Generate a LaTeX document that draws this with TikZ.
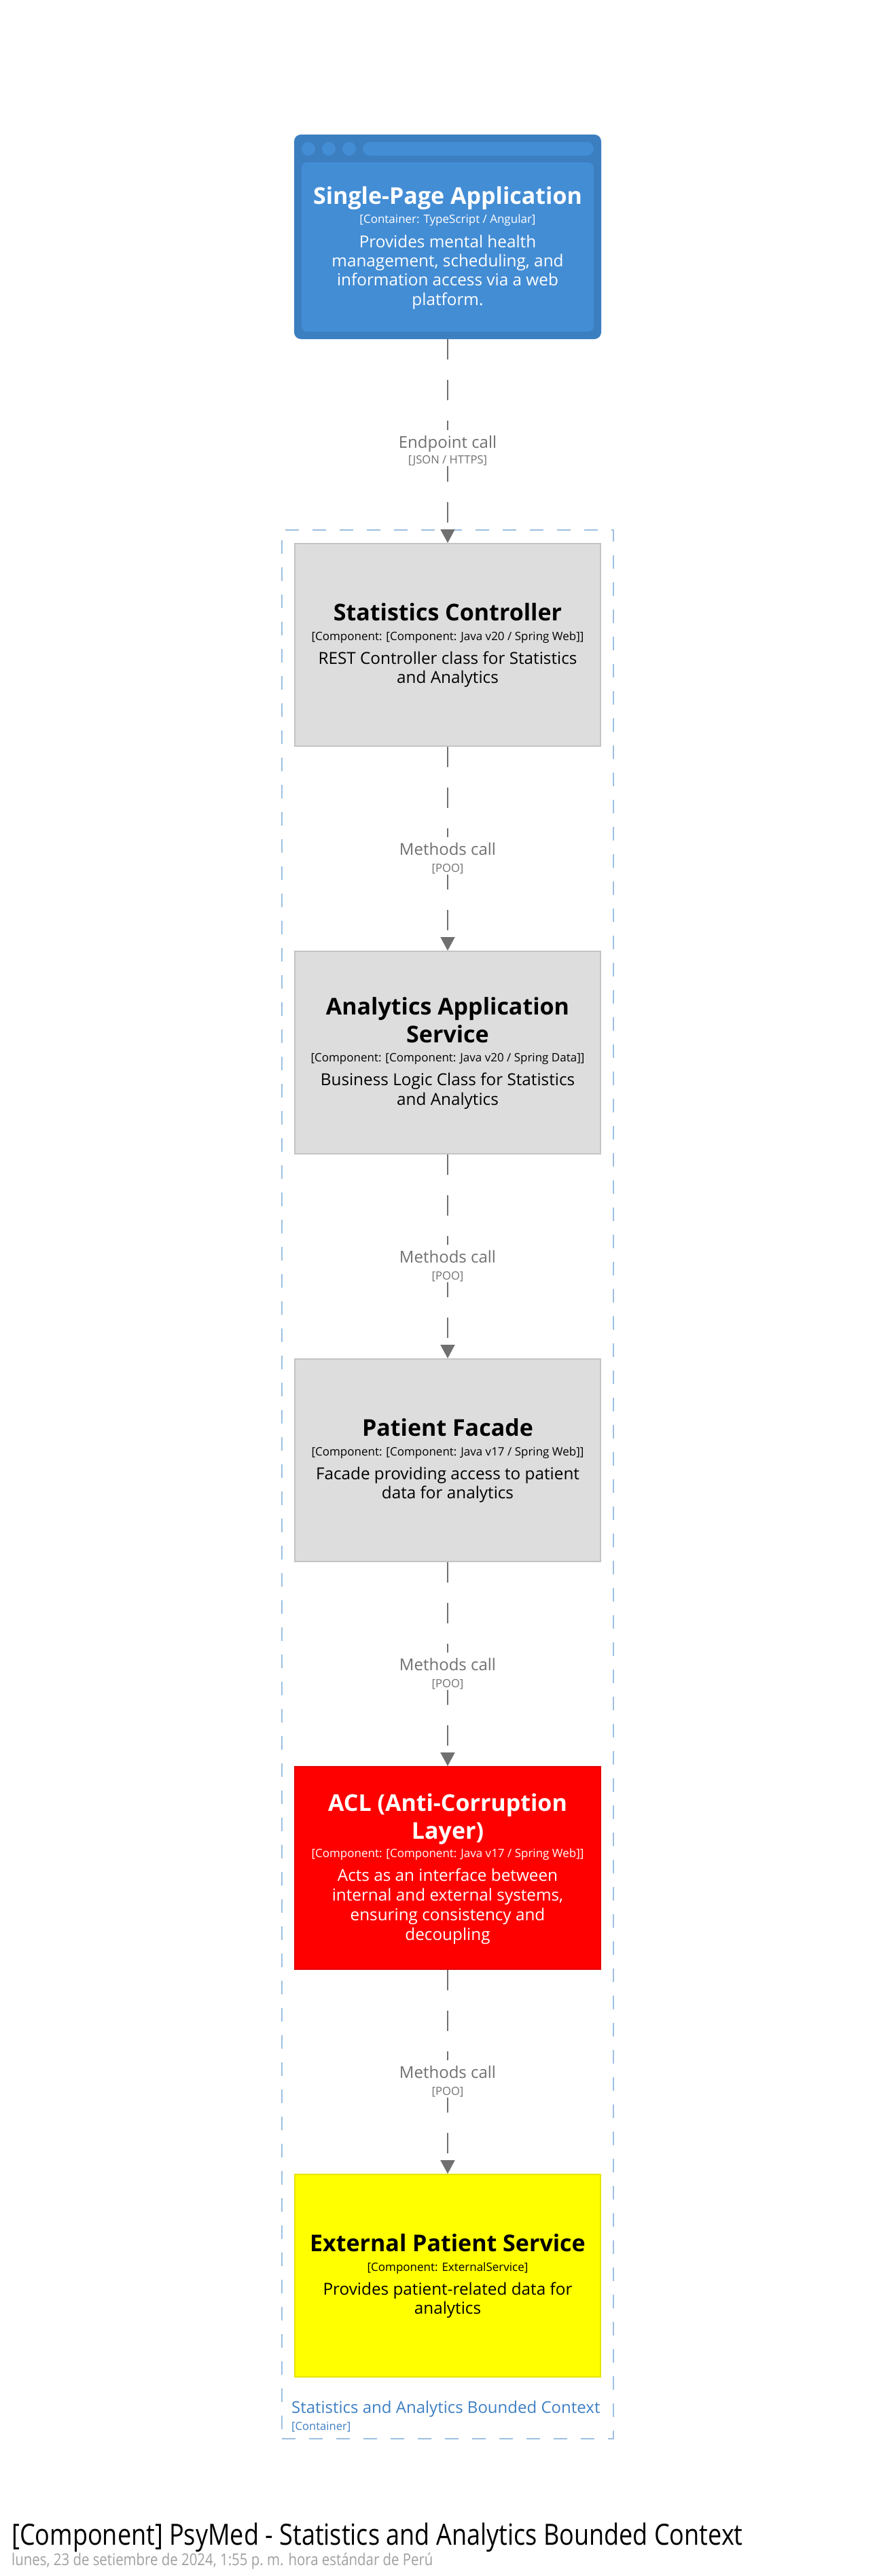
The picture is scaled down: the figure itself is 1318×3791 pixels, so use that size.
\documentclass[tikz,border=0pt]{standalone}
\usepackage{fontspec}
\setmainfont{Open Sans}
\newfontfamily\titlefont[FakeStretch=0.838]{Open Sans}
\newfontfamily\datefont[FakeStretch=0.85]{Open Sans}
\usetikzlibrary{arrows.meta}
\definecolor{spaouter}{HTML}{3C7FC0}
\definecolor{spainner}{HTML}{438DD5}
\definecolor{compfill}{HTML}{DDDDDD}
\definecolor{compline}{HTML}{C4C4C4}
\definecolor{aclfill}{HTML}{FF0000}
\definecolor{aclline}{HTML}{E50000}
\definecolor{extfill}{HTML}{FFFF00}
\definecolor{extline}{HTML}{E5E500}
\definecolor{relgray}{HTML}{707070}
\definecolor{bndline}{HTML}{9CC0E2}
\definecolor{bndtext}{HTML}{3F80C3}
\definecolor{dategray}{HTML}{A0A0A0}
\tikzset{
  compbox/.style={draw=compline, fill=compfill, line width=2pt, minimum width=450pt, minimum height=298pt, inner sep=0pt},
  ttl/.style={anchor=base, inner sep=0pt, font=\fontsize{34}{41}\selectfont\bfseries},
  tech/.style={anchor=base, inner sep=0pt, font=\fontsize{17}{19}\selectfont},
  desc/.style={anchor=base, inner sep=0pt, font=\fontsize{24.3}{29}\selectfont},
  rel/.style={draw=relgray, line width=2pt, dash pattern=on 30pt off 30pt, -{Triangle[length=20pt,width=21pt]}},
  rlab/.style={anchor=base, inner sep=0pt, fill=white, text=relgray, font=\fontsize{24}{29}\selectfont, text height=26pt, text depth=12pt},
  rtech/.style={anchor=base, inner sep=0pt, fill=white, text=relgray, font=\fontsize{16.6}{19}\selectfont, text height=13pt, text depth=4pt},
}
\begin{document}
\begin{tikzpicture}[x=1pt, y=-1pt]
\useasboundingbox (0,0) rectangle (1318,3791);
\fill[white] (0,0) rectangle (1318,3791);

% boundary
\node[draw=bndline, line width=2pt, dash pattern=on 20pt off 20pt, minimum width=488pt, minimum height=2809pt, inner sep=0pt] (bnd) at (659,2184.5) {};
\node[anchor=base west, inner sep=0pt, text=bndtext, font=\fontsize{24}{29}\selectfont] (bnd-t) at (429,3551) {Statistics and Analytics Bounded Context};
\node[anchor=base west, inner sep=0pt, text=bndtext, font=\fontsize{16.6}{19}\selectfont] (bnd-k) at (429,3576) {[Container]};

% Single-Page Application
\node[fill=spaouter, draw=none, rounded corners=10pt, minimum width=452pt, minimum height=301pt, inner sep=0pt] (spa) at (659,348.5) {};
\fill[spainner, rounded corners=8pt] (444,239) rectangle (874,488);
\fill[spainner] (454,219) circle (10pt);
\fill[spainner] (484,219) circle (10pt);
\fill[spainner] (514,219) circle (10pt);
\fill[spainner, rounded corners=10pt] (534,209) rectangle (874,229);
\node[ttl, text=white] (spa-t) at (659,300) {Single-Page Application};
\node[tech, text=white] (spa-k) at (659,328) {[Container: TypeScript / Angular]};
\node[desc, text=white] (spa-d1) at (659,364) {Provides mental health};
\node[desc, text=white] (spa-d2) at (659,392.7) {management, scheduling, and};
\node[desc, text=white] (spa-d3) at (659,420.7) {information access via a web};
\node[desc, text=white] (spa-d4) at (659,449.3) {platform.};

% Statistics Controller
\node[compbox] (sc) at (659,949) {};
\node[ttl] (sc-t) at (659,913) {Statistics Controller};
\node[tech] (sc-k) at (659,942) {[Component: [Component: Java v20 / Spring Web]]};
\node[desc] (sc-d1) at (659,977.3) {REST Controller class for Statistics};
\node[desc] (sc-d2) at (659,1005.7) {and Analytics};

% Analytics Application Service
\node[compbox] (aas) at (659,1549) {};
\node[ttl] (aas-t1) at (659,1493.3) {Analytics Application};
\node[ttl] (aas-t2) at (659,1534) {Service};
\node[tech] (aas-k) at (659,1562.7) {[Component: [Component: Java v20 / Spring Data]]};
\node[desc] (aas-d1) at (659,1597.3) {Business Logic Class for Statistics};
\node[desc] (aas-d2) at (659,1626) {and Analytics};

% Patient Facade
\node[compbox] (pf) at (659,2149) {};
\node[ttl] (pf-t) at (659,2113.3) {Patient Facade};
\node[tech] (pf-k) at (659,2142.3) {[Component: [Component: Java v17 / Spring Web]]};
\node[desc] (pf-d1) at (659,2177.3) {Facade providing access to patient};
\node[desc] (pf-d2) at (659,2205.7) {data for analytics};

% ACL
\node[compbox, draw=aclline, fill=aclfill] (acl) at (659,2749) {};
\node[ttl, text=white] (acl-t1) at (659,2665) {ACL (Anti-Corruption};
\node[ttl, text=white] (acl-t2) at (659,2706) {Layer)};
\node[tech, text=white] (acl-k) at (659,2733.3) {[Component: [Component: Java v17 / Spring Web]]};
\node[desc, text=white] (acl-d1) at (659,2768.3) {Acts as an interface between};
\node[desc, text=white] (acl-d2) at (659,2797.3) {internal and external systems,};
\node[desc, text=white] (acl-d3) at (659,2826) {ensuring consistency and};
\node[desc, text=white] (acl-d4) at (659,2855) {decoupling};

% External Patient Service
\node[compbox, draw=extline, fill=extfill] (eps) at (659,3349) {};
\node[ttl] (eps-t) at (659,3313.3) {External Patient Service};
\node[tech] (eps-k) at (659,3342.3) {[Component: ExternalService]};
\node[desc] (eps-d1) at (659,3377.3) {Provides patient-related data for};
\node[desc] (eps-d2) at (659,3405.7) {analytics};

% connectors
\draw[rel] (spa.south) -- (sc.north);
\draw[rel] (sc.south) -- (aas.north);
\draw[rel] (aas.south) -- (pf.north);
\draw[rel] (pf.south) -- (acl.north);
\draw[rel] (acl.south) -- (eps.north);

% connector labels
\node[rlab] (r1-l) at (659,659) {Endpoint call};
\node[rtech] (r1-k) at (659,682) {[JSON / HTTPS]};
\node[rlab] (r2-l) at (659,1258) {Methods call};
\node[rtech] (r2-k) at (659,1283) {[POO]};
\node[rlab] (r3-l) at (659,1858) {Methods call};
\node[rtech] (r3-k) at (659,1883) {[POO]};
\node[rlab] (r4-l) at (659,2458) {Methods call};
\node[rtech] (r4-k) at (659,2483) {[POO]};
\node[rlab] (r5-l) at (659,3058) {Methods call};
\node[rtech] (r5-k) at (659,3083) {[POO]};

% diagram title
\node[anchor=base west, inner sep=0pt, font=\titlefont\fontsize{43}{50}\selectfont] (title) at (17,3745) {[Component] PsyMed - Statistics and Analytics Bounded Context};
\node[anchor=base west, inner sep=0pt, text=dategray, font=\datefont\fontsize{24}{29}\selectfont] (date) at (17,3775) {lunes, 23 de setiembre de 2024, 1:55 p.\ m. hora estándar de Perú};
\end{tikzpicture}
\end{document}
